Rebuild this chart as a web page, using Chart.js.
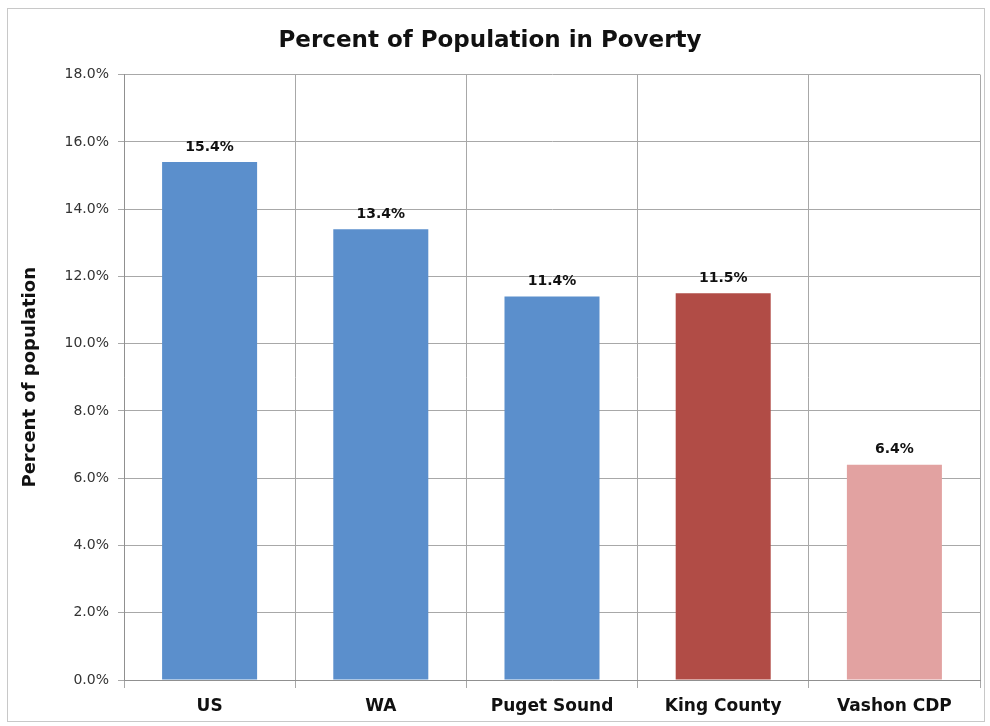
<!DOCTYPE html>
<html>
<head>
<meta charset="utf-8">
<script src="https://cdn.jsdelivr.net/npm/chart.js@4"></script>
<style>
  html, body { margin: 0; padding: 0; background: #fff; }
  #wrap { width: 990px; height: 726px; position: relative; }
</style>
</head>
<body>
<div id="wrap"><canvas id="povertyChart"></canvas></div>
<script>
// Data
const categories = ['US', 'WA', 'Puget Sound', 'King County', 'Vashon CDP'];
const povertyPct = [15.4, 13.4, 11.4, 11.5, 6.4];
const barColors = ['#5b8fcc', '#5b8fcc', '#5b8fcc', '#b14c46', '#e2a2a1'];
const yTicks = [0, 2, 4, 6, 8, 10, 12, 14, 16, 18];

const FONT = 'DejaVu Sans, Verdana, sans-serif';

// value labels above each bar
const valueLabels = {
    id: 'valueLabels',
    afterDatasetsDraw(chart) {
        const ctx = chart.ctx;
        const meta = chart.getDatasetMeta(0);
        ctx.save();
        ctx.font = 'bold 14px ' + FONT;
        ctx.fillStyle = '#111';
        ctx.textAlign = 'center';
        ctx.textBaseline = 'bottom';
        meta.data.forEach((bar, i) => {
            ctx.fillText(povertyPct[i].toFixed(1) + '%', bar.x, bar.y - 8);
        });
        ctx.restore();
    }
};

// light outer frame like the original export
const frame = {
    id: 'frame',
    beforeDraw(chart) {
        const ctx = chart.ctx;
        ctx.save();
        ctx.strokeStyle = '#c8c8c8';
        ctx.lineWidth = 1;
        ctx.strokeRect(7.5, 8.5, 977, 713);
        ctx.restore();
    }
};

new Chart(document.getElementById('povertyChart'), {
    type: 'bar',
    data: {
        labels: categories,
        datasets: [{
            data: povertyPct,
            backgroundColor: barColors,
            borderWidth: 0,
            categoryPercentage: 1.0,
            barPercentage: 0.555
        }]
    },
    options: {
        responsive: true,
        maintainAspectRatio: false,
        animation: false,
        layout: { padding: { left: 0, right: 10, top: 0, bottom: 0 } },
        plugins: {
            legend: { display: false },
            tooltip: { enabled: false },
            title: {
                display: true,
                text: 'Percent of Population in Poverty',
                color: '#111',
                font: { family: FONT, size: 23, weight: 'bold' },
                padding: { top: 27, bottom: 20 }
            }
        },
        scales: {
            x: {
                grid: {
                    color: '#a8a8a8',
                    offset: true,
                    tickLength: 8,
                    drawTicks: true
                },
                border: { color: '#909090' },
                ticks: {
                    color: '#111',
                    padding: 8,
                    font: { family: FONT, size: 17, weight: 'bold' }
                },
                afterFit(scale) { scale.height = 46; }
            },
            y: {
                min: 0,
                max: 18,
                afterBuildTicks(scale) {
                    scale.ticks = yTicks.map(v => ({ value: v }));
                },
                grid: { color: '#a8a8a8', tickLength: 6 },
                border: { color: '#909090' },
                ticks: {
                    color: '#333',
                    padding: 9,
                    font: { family: FONT, size: 14 },
                    callback: v => v.toFixed(1) + '%'
                },
                title: {
                    display: true,
                    text: 'Percent of population',
                    color: '#111',
                    font: { family: FONT, size: 18, weight: 'bold' },
                    padding: { top: 20, bottom: 0 }
                },
                afterFit(scale) { scale.width = 124; }
            }
        }
    },
    plugins: [valueLabels, frame]
});
</script>
</body>
</html>
